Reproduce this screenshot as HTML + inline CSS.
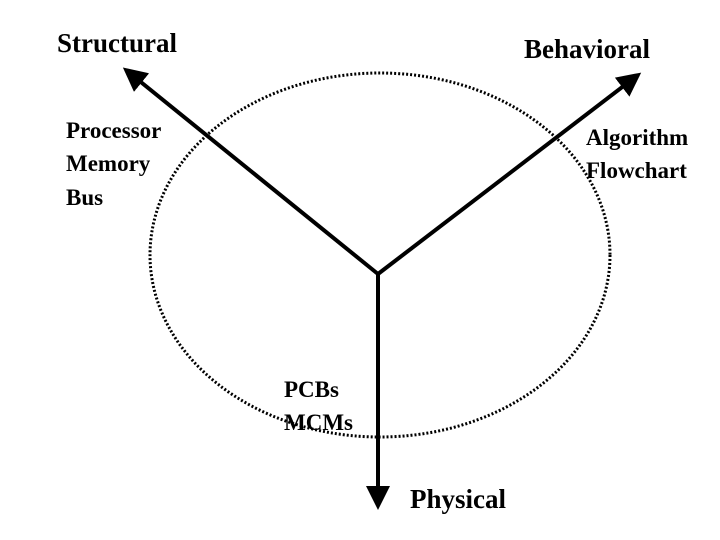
<!DOCTYPE html>
<html><head><style>
html,body{margin:0;padding:0;background:#fff;width:720px;height:540px;overflow:hidden}
svg text{font-family:"Liberation Serif",serif;font-weight:bold;fill:#000}
</style></head><body>
<svg width="720" height="540" viewBox="0 0 720 540">
<defs><marker id="a" markerWidth="6" markerHeight="6" refX="5" refY="3" orient="auto" markerUnits="strokeWidth"><path d="M0,0 L6,3 L0,6 z" fill="#000"/></marker></defs>
<ellipse cx="380" cy="255" rx="230" ry="182" fill="none" stroke="#000" stroke-width="3" stroke-dasharray="2,2"/>
<g stroke="#000" stroke-width="4" fill="none">
<line x1="378" y1="274" x2="126" y2="70" marker-end="url(#a)"/>
<line x1="378" y1="274" x2="638" y2="75" marker-end="url(#a)"/>
<line x1="378" y1="274" x2="378" y2="506" marker-end="url(#a)"/>
</g>
<text x="57" y="52" font-size="27">Structural</text>
<text x="524" y="58" font-size="27">Behavioral</text>
<text x="66" y="138" font-size="23">Processor</text>
<text x="66" y="171" font-size="23">Memory</text>
<text x="66" y="205" font-size="23">Bus</text>
<text x="586" y="145" font-size="23">Algorithm</text>
<text x="586" y="178" font-size="23">Flowchart</text>
<text x="284" y="397" font-size="23">PCBs</text>
<text x="284" y="430" font-size="23">MCMs</text>
<text x="410" y="508" font-size="27">Physical</text>
</svg>
</body></html>
